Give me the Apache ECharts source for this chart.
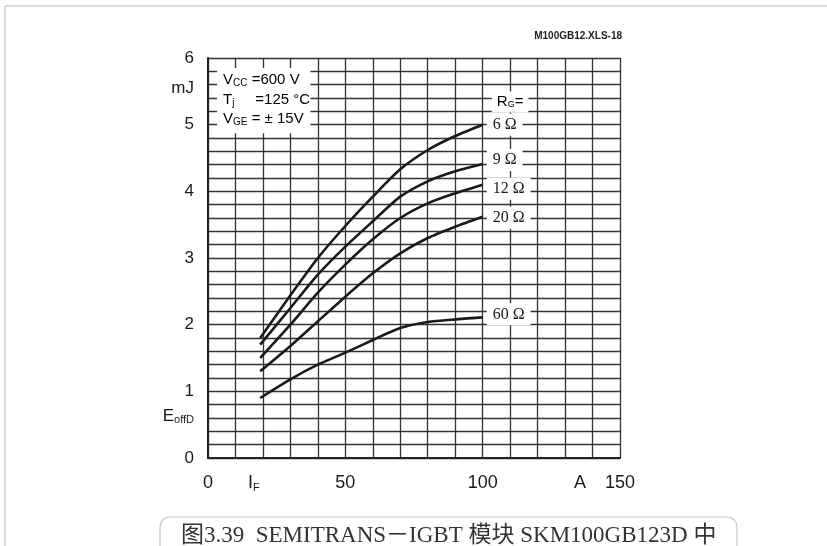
<!DOCTYPE html>
<html><head><meta charset="utf-8">
<script src="https://cdn.jsdelivr.net/npm/echarts@6/dist/echarts.min.js"></script>
<style>html,body{margin:0;padding:0;background:#fff}#c{width:827px;height:546px}</style>
</head><body><div id="c"></div>
<script>
// Data
const currentA = [19, 30, 40, 50, 60, 70, 80, 90, 100];
const eoff6 = [1.80, 2.44, 3.00, 3.48, 3.92, 4.33, 4.62, 4.83, 5.00];
const eoff9 = [1.70, 2.25, 2.75, 3.17, 3.55, 3.92, 4.15, 4.30, 4.41];
const eoff12 = [1.50, 2.00, 2.48, 2.90, 3.28, 3.60, 3.82, 3.97, 4.10];
const eoff20 = [1.30, 1.68, 2.05, 2.42, 2.77, 3.07, 3.30, 3.47, 3.62];
const eoff60 = [0.90, 1.18, 1.40, 1.58, 1.77, 1.95, 2.04, 2.08, 2.11];
const seriesNames = ['6 Ω', '9 Ω', '12 Ω', '20 Ω', '60 Ω'];
const labelOffsets = [[0, 0], [0, -4], [0, 4], [0, 1], [0, -3]];
const xTickValues = [0, 50, 100, 150];
const yTickValues = [0, 1, 2, 3, 4, 5, 6];
const xNamePos = { IF: 16.7, A: 135.4 };
const yNamePos = { mJ: 5.55, E: 0.62 };

const allSeries = [eoff6, eoff9, eoff12, eoff20, eoff60];
const near = (a, b) => Math.abs(a - b) < 1e-6;

const chart = echarts.init(document.getElementById('c'), null, { renderer: 'canvas' });
const sans = 'Liberation Sans, Arial, sans-serif';
const serif = 'Liberation Serif, Times New Roman, serif';
const gridColor = '#333';

chart.setOption({
  animation: false,
  backgroundColor: '#fff',
  grid: { left: 208, top: 58, width: 412, height: 400, containLabel: false },
  xAxis: {
    type: 'value', min: 0, max: 150, interval: 10,
    axisLine: { show: true, onZero: false, lineStyle: { color: '#222', width: 2 } },
    axisTick: { show: false },
    splitLine: { show: true, lineStyle: { color: gridColor, width: 1.3 } },
    axisLabel: {
      customValues: xTickValues.concat([xNamePos.IF, xNamePos.A]),
      margin: 16, color: '#1a1a1a', fontFamily: sans, fontSize: 18,
      formatter: v => {
        if (near(v, xNamePos.IF)) return '{b|I}{s|F}';
        if (near(v, xNamePos.A)) return 'A';
        return String(Math.round(v));
      },
      rich: {
        b: { fontFamily: sans, fontSize: 18, color: '#1a1a1a' },
        s: { fontFamily: sans, fontSize: 11, color: '#1a1a1a', verticalAlign: 'bottom', padding: [8, 0, 0, 0] }
      }
    }
  },
  yAxis: {
    type: 'value', min: 0, max: 6, interval: 0.2,
    axisLine: { show: true, onZero: false, lineStyle: { color: '#222', width: 2 } },
    axisTick: { show: false },
    splitLine: { show: true, lineStyle: { color: gridColor, width: 1.3 } },
    axisLabel: {
      customValues: yTickValues.concat([yNamePos.mJ, yNamePos.E]),
      margin: 14, color: '#1a1a1a', fontFamily: sans, fontSize: 17,
      formatter: v => {
        if (near(v, yNamePos.mJ)) return 'mJ';
        if (near(v, yNamePos.E)) return '{b|E}{s|offD}';
        return String(Math.round(v));
      },
      rich: {
        b: { fontFamily: sans, fontSize: 17, color: '#1a1a1a' },
        s: { fontFamily: sans, fontSize: 11, color: '#1a1a1a', verticalAlign: 'bottom', padding: [7, 0, 0, 0] }
      }
    }
  },
  series: allSeries.map((vals, i) => ({
    name: seriesNames[i],
    type: 'line',
    smooth: 0.25,
    showSymbol: false,
    symbol: 'none',
    data: currentA.map((x, k) => [x, vals[k]]),
    lineStyle: { color: '#1a1a1a', width: 2.6 },
    endLabel: {
      show: true,
      formatter: seriesNames[i],
      fontFamily: serif, fontSize: 16, color: '#1a1a1a',
      backgroundColor: '#fff', padding: [3, 6, 3, 6],
      distance: 4, offset: labelOffsets[i]
    },
    z: 5
  }))
});

function place() {
  const p = (x, y) => chart.convertToPixel({ gridIndex: 0 }, [x, y]);
  const rg = p(110, 5.34);
  const box0 = p(3.3, 5.85);
  const box1 = p(37.3, 4.87);
  const condRich = {
    b: { fontFamily: sans, fontSize: 15, color: '#1a1a1a' },
    s: { fontFamily: sans, fontSize: 10, color: '#1a1a1a', verticalAlign: 'bottom', padding: [6, 0, 0, 0] }
  };
  chart.setOption({
    graphic: [
      // outer frame
      { type: 'line', shape: { x1: 5, y1: 6, x2: 827, y2: 6 }, style: { stroke: '#d9d9d9', lineWidth: 2 }, silent: true },
      { type: 'line', shape: { x1: 5, y1: 6, x2: 5, y2: 546 }, style: { stroke: '#d9d9d9', lineWidth: 2 }, silent: true },
      // condition box
      { type: 'rect', shape: { x: box0[0], y: box0[1], width: box1[0] - box0[0], height: box1[1] - box0[1] }, style: { fill: '#fff' }, z: 10 },
      { type: 'text', x: box0[0] + 6, y: box0[1] + 4, z: 11, style: { text: '{b|V}{s|CC}{b| =600 V}', rich: condRich } },
      { type: 'text', x: box0[0] + 6, y: box0[1] + 24, z: 11, style: { text: '{b|T}{s|j}{b|     =125 °C}', rich: condRich } },
      { type: 'text', x: box0[0] + 6, y: box0[1] + 43, z: 11, style: { text: '{b|V}{s|GE}{b| = ± 15V}', rich: condRich } },
      // R_G = label
      { type: 'text', x: rg[0], y: rg[1], z: 11, style: {
          text: '{b|R}{s|G}{b|=}', align: 'center', verticalAlign: 'middle',
          backgroundColor: '#fff', padding: [3, 5, 3, 5],
          rich: { b: { fontFamily: sans, fontSize: 15, color: '#1a1a1a' }, s: { fontFamily: sans, fontSize: 9, color: '#1a1a1a', verticalAlign: 'bottom', padding: [5, 0, 0, 0] } }
        } },
      // file id
      { type: 'text', x: 622, y: 36, style: { text: 'M100GB12.XLS-18', align: 'right', verticalAlign: 'middle', fontFamily: sans, fontSize: 10, fontWeight: 'bold', fill: '#222' } },
      // caption box
      { type: 'rect', shape: { x: 160, y: 517, width: 577, height: 45, r: 10 }, style: { fill: '#fff', stroke: '#c8c8c8', lineWidth: 1.2 } },
      { type: 'text', x: 181, y: 536, style: { text: '图3.39  SEMITRANS－IGBT 模块 SKM100GB123D 中', verticalAlign: 'middle', fontFamily: 'Liberation Serif, Noto Sans CJK SC, serif', fontSize: 23, fill: '#333' } }
    ]
  });
}
place();
</script>
</body></html>
